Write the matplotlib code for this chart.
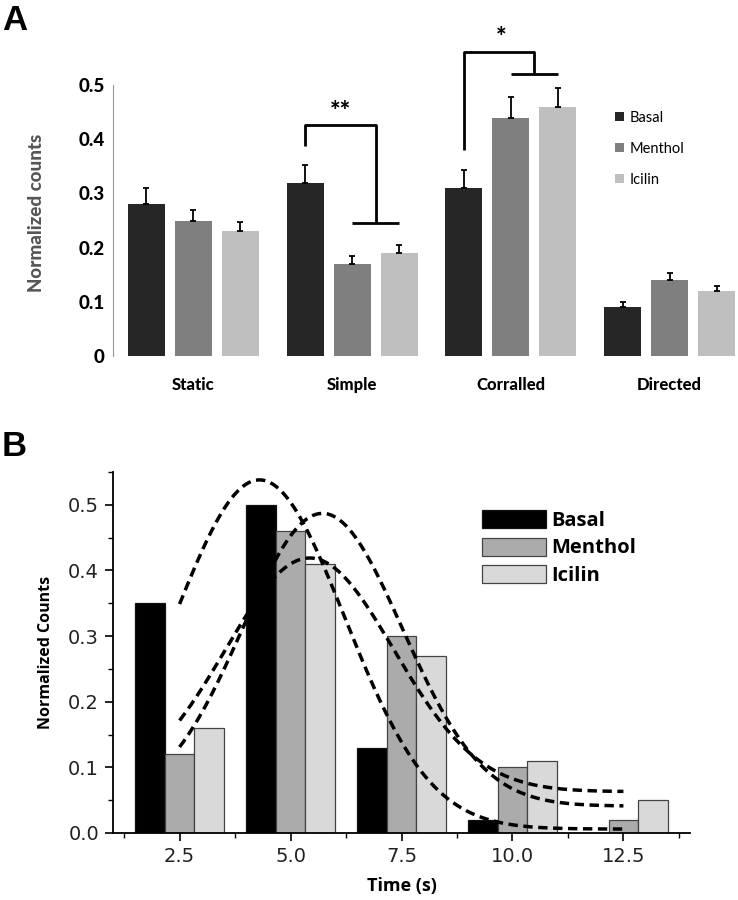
import numpy as np
import matplotlib
matplotlib.use("Agg")
import matplotlib.pyplot as plt
from matplotlib.ticker import MultipleLocator

# ---------------- Data: panel A ----------------
cat_a = ["Static", "Simple", "Corralled", "Directed"]
series_a = ["Basal", "Menthol", "Icilin"]
basal_a = [0.28, 0.32, 0.31, 0.09]
menthol_a = [0.25, 0.17, 0.44, 0.14]
icilin_a = [0.23, 0.19, 0.46, 0.12]
basal_a_err = [0.030, 0.033, 0.033, 0.010]
menthol_a_err = [0.020, 0.015, 0.037, 0.013]
icilin_a_err = [0.017, 0.015, 0.035, 0.010]
yticks_a = [0, 0.1, 0.2, 0.3, 0.4, 0.5]
ytick_labels_a = ["0", "0.1", "0.2", "0.3", "0.4", "0.5"]

# ---------------- Data: panel B ----------------
time_b = [2.5, 5.0, 7.5, 10.0, 12.5]
basal_b = [0.35, 0.50, 0.13, 0.02, 0.0]
menthol_b = [0.12, 0.46, 0.30, 0.10, 0.02]
icilin_b = [0.16, 0.41, 0.27, 0.11, 0.05]
# Gaussian fit parameters: baseline, amplitude, centre, width
fit_y0 = [0.006, 0.041, 0.063]
fit_amp = [0.532, 0.446, 0.356]
fit_xc = [4.30, 5.72, 5.43]
fit_w = [1.92, 1.80, 1.90]
xticks_b = [2.5, 5.0, 7.5, 10.0, 12.5]
yticks_b = [0.0, 0.1, 0.2, 0.3, 0.4, 0.5]

cols_a = ["#262626", "#7f7f7f", "#bfbfbf"]
cols_b = ["#000000", "#ababab", "#d9d9d9"]

W, H = 738, 900
fig = plt.figure(figsize=(W / 100, H / 100), dpi=100)

FA = "Lato"
FB = "Open Sans"

# ---------------- Panel A ----------------
axA = fig.add_axes([113 / W, 1 - 356 / H, (W - 113) / W, 336 / H])
x = np.arange(len(cat_a))
bw = 0.233
off = 0.296
vals = [basal_a, menthol_a, icilin_a]
errs = [basal_a_err, menthol_a_err, icilin_a_err]
bars_a = []
for i, (v, e, c, name) in enumerate(zip(vals, errs, cols_a, series_a)):
    xs = x + (i - 1) * off
    b = axA.bar(xs, v, width=bw, color=c, label=name, zorder=2)
    bars_a.append(b)
    axA.errorbar(xs, v, yerr=[np.zeros(len(v)), e], fmt="none", ecolor="black",
                 elinewidth=1.3, capsize=2.5, capthick=1.3, zorder=3)
axA.set_xlim(-0.505, 3.43)
axA.set_ylim(0, 0.62)
for s in ["top", "right", "bottom"]:
    axA.spines[s].set_visible(False)
axA.spines["left"].set_bounds(0, 0.5)
axA.spines["left"].set_color("#999999")
axA.spines["left"].set_linewidth(0.8)
axA.set_yticks(yticks_a)
axA.set_yticklabels(ytick_labels_a, fontfamily=FA, fontweight="black", fontsize=13.5)
axA.tick_params(axis="y", length=0, pad=6)
axA.set_xticks(x)
axA.set_xticklabels(cat_a, fontfamily=FA, fontweight="black", fontsize=12)
axA.tick_params(axis="x", length=0, pad=15)
axA.set_ylabel("Normalized counts", fontfamily=FA, fontweight="black", fontsize=13.5,
               color="#555555")
axA.yaxis.set_label_coords(-0.109, 0.425)

# significance brackets
lk = dict(color="black", lw=2.0, clip_on=False, solid_capstyle="butt", zorder=4)
axA.plot([0.704, 0.704, 1.148, 1.148], [0.387, 0.426, 0.426, 0.245], **lk)
axA.plot([1.0, 1.296], [0.245, 0.245], **lk)
axA.text(0.925, 0.452, "**", ha="center", va="center", fontsize=18, fontweight="black", fontfamily=FA)
axA.plot([1.704, 1.704, 2.148, 2.148], [0.38, 0.561, 0.561, 0.52], **lk)
axA.plot([2.0, 2.296], [0.52, 0.52], **lk)
axA.text(1.937, 0.587, "*", ha="center", va="center", fontsize=18, fontweight="black", fontfamily=FA)

fig.legend(handles=bars_a, labels=series_a, loc="upper left",
           bbox_to_anchor=(615 / W, 1 - 111 / H), frameon=False,
           handlelength=0.6, handleheight=0.6, handletextpad=0.4, labelspacing=1.15,
           borderpad=0, borderaxespad=0, prop=dict(family=FA, size=10.5))

fig.text(2 / W, 1 - 4 / H, "A", fontsize=25, fontweight="bold", fontfamily="Liberation Sans",
         ha="left", va="top")

# ---------------- Panel B ----------------
axB = fig.add_axes([113 / W, 1 - 833 / H, 577 / W, 361 / H])
bwb = 0.665
valsb = [basal_b, menthol_b, icilin_b]
edges = ["#111111", "#444444", "#444444"]
bars_b = []
tb = np.array(time_b)
for i, (v, c, ec, name) in enumerate(zip(valsb, cols_b, edges, series_a)):
    b = axB.bar(tb + (i - 1) * bwb, v, width=bwb, color=c, edgecolor=ec, linewidth=0.9,
                label=name, zorder=2)
    bars_b.append(b)
xx = np.linspace(2.5, 12.5, 300)
for y0, a, xc, w in zip(fit_y0, fit_amp, fit_xc, fit_w):
    yy = y0 + a * np.exp(-(xx - xc) ** 2 / (2 * w ** 2))
    axB.plot(xx, yy, color="black", lw=2.5, dashes=(2.7, 1.6), zorder=3)
axB.set_xlim(1, 14)
axB.set_ylim(0, 0.55)
for s in ["top", "right"]:
    axB.spines[s].set_visible(False)
for s in ["left", "bottom"]:
    axB.spines[s].set_linewidth(1.3)
axB.set_xticks(xticks_b)
axB.set_xticklabels([f"{t:.1f}" for t in xticks_b])
axB.xaxis.set_minor_locator(MultipleLocator(1.25))
axB.set_yticks(yticks_b)
axB.set_yticklabels([f"{t:.1f}" for t in yticks_b])
axB.yaxis.set_minor_locator(MultipleLocator(0.05))
axB.tick_params(which="major", length=6, width=1.2, labelsize=14, pad=4)
axB.tick_params(which="minor", length=3.5, width=1.0)
for lab in axB.get_xticklabels() + axB.get_yticklabels():
    lab.set_fontfamily("DejaVu Sans")
    lab.set_color("#222222")
axB.set_xlabel("Time (s)", fontfamily=FB, fontweight="bold", fontsize=13, labelpad=8)
axB.set_ylabel("Normalized Counts", fontfamily=FB, fontweight="bold", fontsize=11.5, labelpad=10)

fig.legend(handles=bars_b, labels=series_a, loc="upper left",
           bbox_to_anchor=(482 / W, 1 - 510 / H), frameon=False,
           handlelength=3.2, handleheight=1.0, handletextpad=0.25, labelspacing=0.33,
           borderpad=0, borderaxespad=0, prop=dict(family=FB, weight="bold", size=14.5))

fig.text(2 / W, 1 - 430 / H, "B", fontsize=25, fontweight="bold", fontfamily="Liberation Sans",
         ha="left", va="top")

fig.savefig("out.png", dpi=100)
